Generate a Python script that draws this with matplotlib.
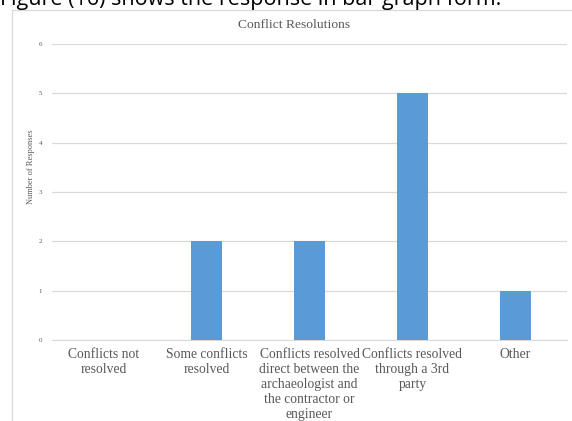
import matplotlib.pyplot as plt
from matplotlib.lines import Line2D

categories = [
    "Conflicts not\nresolved",
    "Some conflicts\nresolved",
    "Conflicts resolved\ndirect between the\narchaeologist and\nthe contractor or\nengineer",
    "Conflicts resolved\nthrough a 3rd\nparty",
    "Other",
]
responses = [0, 2, 2, 5, 1]
yticks = [0, 1, 2, 3, 4, 5, 6]

W, H = 572, 421
fig = plt.figure(figsize=(W / 100, H / 100), dpi=100)
ax = fig.add_axes([52 / W, 1 - 340 / H, (567 - 52) / W, (340 - 44) / H])

gray = "#595959"
x = range(len(categories))
ax.bar(x, responses, width=0.31, color="#5b9bd5", zorder=3)

ax.set_xlim(-0.5, len(categories) - 0.5)
ax.set_ylim(0, 6)
ax.set_yticks(yticks)
ax.set_yticklabels([str(v) for v in yticks], fontsize=5, color=gray,
                   family="Liberation Serif")
ax.yaxis.grid(True, color="#d9d9d9", linewidth=0.9, zorder=0)
ax.set_xticks(list(x))
ax.set_xticklabels(categories, fontsize=9.8, color=gray, family="Liberation Serif",
                   linespacing=1.19, va="top")
ax.tick_params(axis="both", length=0)
ax.tick_params(axis="x", pad=6)
ax.tick_params(axis="y", pad=7)
for s in ["top", "right", "left"]:
    ax.spines[s].set_visible(False)
ax.spines["bottom"].set_color("#d9d9d9")

fig.text(294 / W, 1 - 25 / H, "Conflict Resolutions", fontsize=9.7, color=gray,
         family="Liberation Serif", ha="center", va="center")
fig.text(31 / W, 1 - 167 / H, "Number of Responses", rotation=90, fontsize=6,
         color=gray, family="Liberation Serif", ha="center", va="center")

# chart frame (left and top edges visible in the reference)
fig.add_artist(Line2D([12 / W, 12 / W], [0, 1 - 10 / H], transform=fig.transFigure,
                      color="#d9d9d9", linewidth=0.9))
fig.add_artist(Line2D([12 / W, 1], [1 - 10 / H, 1 - 10 / H], transform=fig.transFigure,
                      color="#d9d9d9", linewidth=0.9))

# document caption, cut off at the top edge as in the reference
fig.text(0, 1 - 5 / H, "Figure (16) shows the response in bar graph form.",
         fontsize=15.5, family="Open Sans", color="black", ha="left", va="baseline")

fig.savefig("out.png", dpi=100)
